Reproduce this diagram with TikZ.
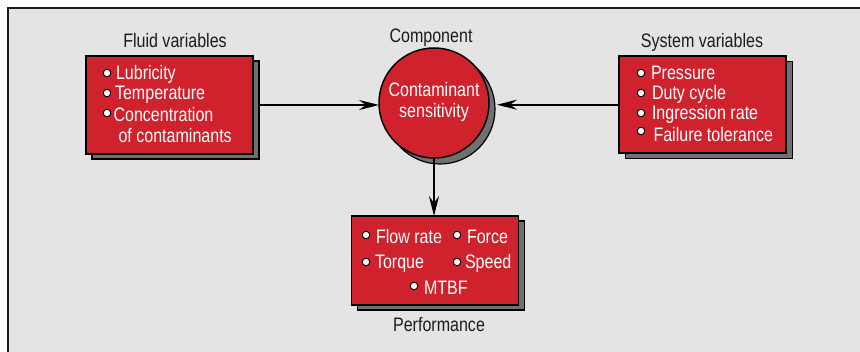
\documentclass[tikz,border=0pt]{standalone}
\usepackage{fontspec}
\setmainfont{Liberation Sans}[FakeStretch=0.823]
\usetikzlibrary{arrows.meta,shadows}
\definecolor{boxred}{RGB}{208,34,44}
\definecolor{bggray}{RGB}{228,228,228}
\definecolor{shgray}{RGB}{112,112,112}
\definecolor{inkblack}{RGB}{28,28,28}
\newcommand\diafont{\fontsize{19.5}{21}\selectfont}
\begin{document}
\begin{tikzpicture}[x=1pt,y=-1pt,
  every node/.style={font=\diafont,inner sep=0pt,outer sep=0pt},
  redbox/.style={rectangle,draw=black,line width=1.5pt,fill=boxred,
    general shadow={fill=shgray,draw=black,line width=1.2pt,shadow xshift=6pt,shadow yshift=-5pt}},
  redcircle/.style={circle,draw=black,line width=1.5pt,fill=boxred,minimum size=110pt,
    general shadow={fill=shgray,draw=black,line width=1.2pt,shadow xshift=6pt,shadow yshift=-6pt}},
  bul/.style={circle,draw=black,line width=0.9pt,fill=white,minimum size=7.5pt},
  intext/.style={anchor=base west,text=white},
  ctext/.style={anchor=base,text=white},
  label/.style={anchor=base,text=inkblack},
  arr/.style={draw=black,line width=2pt,-{Stealth[length=20pt,width=10pt,inset=7pt]}}
]
\useasboundingbox (0,0) rectangle (860,352);
\fill[bggray] (8,8) rectangle (860,352);
\draw[inkblack,line width=1.6pt] (8,352) -- (8,8) -- (860,8);

% boxes
\node[redbox,minimum width=167pt,minimum height=98pt] (fluid) at (169.5,105) {};
\node[redbox,minimum width=167pt,minimum height=97pt] (sys) at (702.7,104.7) {};
\node[redbox,minimum width=167pt,minimum height=89pt] (perf) at (435,260.5) {};
\node[redcircle] (comp) at (434,103) {};

% labels
\node[label] (lfluid) at (175,48) {Fluid variables};
\node[label] (lcomp) at (431,43) {Component};
\node[label] (lsys) at (702,47.5) {System variables};
\node[label] (lperf) at (439,332) {Performance};

% circle text
\node[ctext] (c1) at (434,97) {Contaminant};
\node[ctext] (c2) at (434,118) {sensitivity};

% fluid variables
\node[bul] (fb1) at (107,73) {};
\node[bul] (fb2) at (107,93) {};
\node[bul] (fb3) at (107,113) {};
\node[intext] (ft1) at (116,80) {Lubricity};
\node[intext] (ft2) at (115,100) {Temperature};
\node[intext] (ft3) at (113.5,121.5) {Concentration};
\node[intext] (ft4) at (118.5,142.5) {of contaminants};

% system variables
\node[bul] (sb1) at (641,73) {};
\node[bul] (sb2) at (641,93) {};
\node[bul] (sb3) at (641,113) {};
\node[bul] (sb4) at (641,131) {};
\node[intext] (st1) at (651,80) {Pressure};
\node[intext] (st2) at (652,100) {Duty cycle};
\node[intext] (st3) at (652,119.5) {Ingression rate};
\node[intext] (st4) at (653.5,141.5) {Failure tolerance};

% performance
\node[bul] (pb1) at (366,235) {};
\node[bul] (pb2) at (457,235) {};
\node[bul] (pb3) at (366,262) {};
\node[bul] (pb4) at (457,262) {};
\node[bul] (pb5) at (414,286) {};
\node[intext] (pt1) at (376,244) {Flow rate};
\node[intext] (pt2) at (467,244) {Force};
\node[intext] (pt3) at (375,269) {Torque};
\node[intext] (pt4) at (465,269) {Speed};
\node[intext] (pt5) at (424,295) {MTBF};

% connectors
\coordinate (rtip) at ([xshift=8pt]sys.west -| comp.east);
\draw[arr] ([xshift=6pt]fluid.east) -- (fluid.east -| comp.west);
\draw[arr] (sys.west) -- (rtip);
\draw[arr] (comp.south) -- (comp.south |- perf.north);
\end{tikzpicture}
\end{document}
